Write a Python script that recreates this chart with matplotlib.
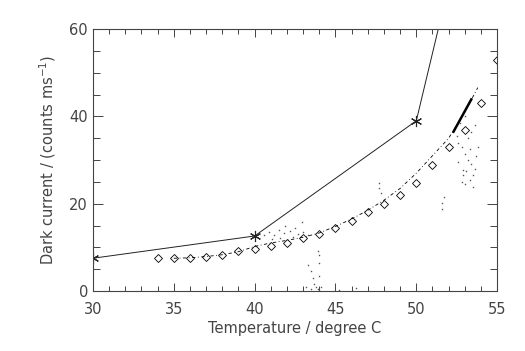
import matplotlib
matplotlib.use("Agg")
import matplotlib.pyplot as plt
from matplotlib.ticker import MultipleLocator

# Model curve (stars)
star_T = [30, 40, 50, 60]
star_y = [7.5, 12.6, 39.0, 194.0]

# Diamond measurements
dia_T = [34, 35, 36, 37, 38, 39, 40, 41, 42, 43, 44, 45, 46, 47, 48, 49, 50, 51, 52, 53, 54, 55]
dia_y = [7.6, 7.5, 7.6, 7.8, 8.2, 9.1, 9.6, 10.3, 11.0, 12.1, 13.0, 14.4, 16.0, 18.1, 19.9, 22.0, 24.8, 28.8, 32.9, 37.0, 43.0, 53.0]

# Dash-dot trace of the readings
trace_T = [35, 36, 37, 38, 39, 40, 41, 42, 43, 44, 45, 46, 47, 48, 49, 50, 51, 52, 53, 53.8]
trace_y = [7.5, 7.6, 7.9, 8.3, 9.0, 10.2, 11.0, 11.6, 12.3, 13.3, 14.8, 16.5, 18.5, 20.8, 23.5, 27.0, 31.0, 35.0, 41.0, 46.6]

# Dense segment of readings
dense_T = [52.3, 53.4]
dense_y = [36.5, 43.9]

# Scattered individual readings
dot_T = [40.6, 40.9, 41.2, 41.5, 41.8, 41.9, 42.2, 42.5, 42.9, 42.7, 43.0, 43.3, 41.1, 41.6, 42.4,
         43.3, 43.5, 43.6, 43.7, 43.8, 43.9, 44.0, 44.1, 44.0, 44.0, 44.0, 43.9, 43.2, 43.5, 46.3, 45.2,
         47.7, 47.7, 47.8, 46.2, 44.8,
         51.6, 51.6, 51.7,
         52.6, 52.8, 53.0, 53.2, 53.4, 53.6, 53.1, 52.9, 53.3, 53.5, 52.8, 53.0, 53.7, 53.8, 53.2, 53.4,
         52.7, 52.5, 53.6, 53.0, 52.9, 53.3, 53.5, 52.6]
dot_y = [12.8, 13.5, 12.9, 14.0, 13.2, 15.0, 13.8, 14.5, 15.9, 13.0, 13.6, 12.9, 11.8, 12.2, 12.4,
         6.0, 4.5, 3.0, 1.5, 0.8, 0.4, 0.3, 1.0, 3.5, 6.5, 8.2, 9.2, 1.0, 0.5, 0.6, 0.2,
         24.7, 23.5, 22.5, 16.2, 14.3,
         20.2, 18.8, 21.5,
         34, 33, 31.5, 30, 29, 28, 27.5, 26.5, 25.5, 26.5, 25, 24.5, 31, 33, 35, 36.5,
         38.5, 35.5, 38, 40, 27.8, 32.5, 23.8, 29.5]

xticks = [30, 35, 40, 45, 50, 55]
yticks = [0, 20, 40, 60]

plt.rcParams['font.family'] = ['DejaVu Sans']
fig = plt.figure(figsize=(5.25, 3.51), dpi=100)
ax = fig.add_axes([0.177, 0.171, 0.770, 0.746])

tc = '#444444'
ax.plot(star_T, star_y, color='#222222', lw=0.7, marker=(6, 2, 0), ms=8, mew=0.8, clip_on=True)
ax.plot(trace_T, trace_y, color='black', lw=0.6, linestyle=(0, (4, 3, 1, 3)))
ax.plot(dense_T, dense_y, color='black', lw=1.8)
ax.plot(dia_T, dia_y, linestyle='none', marker='D', ms=4.5, mfc='none', mec='black', mew=0.6, clip_on=True)
ax.plot(dot_T, dot_y, linestyle='none', marker='s', ms=1.0, mfc='#555555', mec='none')

ax.set_xlim(30, 55)
ax.set_ylim(0, 60)
ax.set_xticks(xticks)
ax.set_yticks(yticks)
ax.xaxis.set_minor_locator(MultipleLocator(1))
ax.yaxis.set_minor_locator(MultipleLocator(5))
ax.tick_params(which='both', direction='in', top=True, right=True, color=tc, width=0.7, labelcolor=tc, labelsize=10.5)
ax.tick_params(which='major', length=6)
ax.tick_params(which='minor', length=3.5)
ax.tick_params(axis='y', which='major', length=7.5)
ax.tick_params(axis='y', which='minor', length=5)
ax.tick_params(axis='x', pad=8)
for s in ax.spines.values():
    s.set_color(tc)
    s.set_linewidth(0.8)

ax.set_xlabel('Temperature / degree C', color=tc, fontsize=10.5, labelpad=3)
ax.set_ylabel('Dark current / (counts ms$^{-1}$)', color=tc, fontsize=10.5, labelpad=8)

fig.savefig('out.png', dpi=100)
